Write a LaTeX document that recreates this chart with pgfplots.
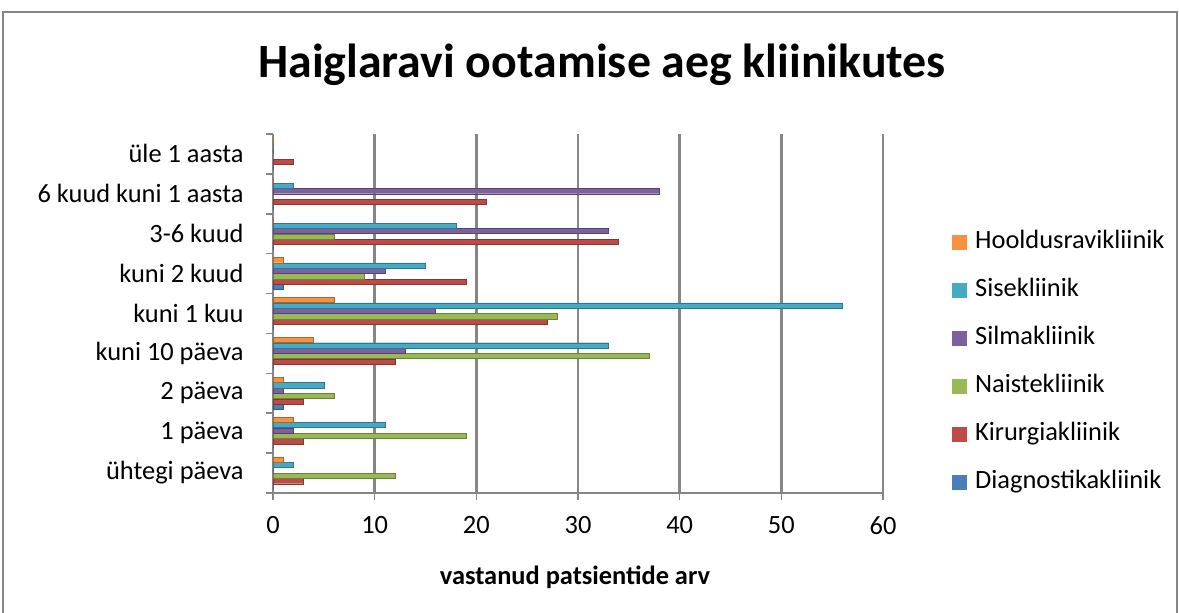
\documentclass[border=0pt]{standalone}
\usepackage{fontspec}
\setmainfont{Carlito}
\usepackage{pgfplots}
\usepackage{pgfplotstable}
\pgfplotsset{compat=1.18}
\definecolor{gridgray}{RGB}{134,134,134}
\definecolor{cDiag}{HTML}{4A7EBB}
\definecolor{cKir}{HTML}{BE4B48}
\definecolor{cNai}{HTML}{98B954}
\definecolor{cSil}{HTML}{7D60A0}
\definecolor{cSis}{HTML}{46AAC5}
\definecolor{cHoo}{HTML}{F69240}

% waiting time category (0 = uhtegi paeva ... 8 = ule 1 aasta), respondents per clinic
\pgfplotstableread{
cat diag kir nai sil sis hoo
0   0    3   12  0   2   1
1   0    3   19  2   11  2
2   1    3   6   1   5   1
3   0    12  37  13  33  4
4   0    27  28  16  56  6
5   1    19  9   11  15  1
6   0    34  6   33  18  0
7   0    21  0   38  2   0
8   0    2   0   0   0   0
}\waittimes

\begin{document}
\begin{tikzpicture}[x=1bp,y=1bp]
\path[use as bounding box] (0,0) rectangle (1179,613);
\draw[gridgray, line width=1.2bp] (3,-10) -- (3,601) -- (1177,601) -- (1177,-10);
\node[font=\fontsize{48}{56}\selectfont\bfseries] at (602,548) {Haiglaravi ootamise aeg kliinikutes};
\node[font=\fontsize{26.5}{30}\selectfont\bfseries] at (575,36) {vastanud patsientide arv};
\begin{axis}[
  at={(273bp,479bp)}, anchor=north west, scale only axis,
  width=610bp, height=359bp,
  font=\fontsize{26.5}{30}\selectfont,
  /pgf/number format/assume math mode=true,
  xbar, bar width=0.13,
  xmin=0, xmax=60, ymin=-0.5, ymax=8.5,
  xtick={0,10,...,60},
  ytick={0,...,8},
  yticklabels={ühtegi päeva,1 päeva,2 päeva,kuni 10 päeva,kuni 1 kuu,kuni 2 kuud,3-6 kuud,6 kuud kuni 1 aasta,üle 1 aasta},
  minor ytick={-0.5,0.5,...,8.5},
  tick align=outside,
  major tick length=7bp, minor tick length=7bp,
  every major y tick/.append style={draw=none},
  every minor y tick/.append style={gridgray, line width=1.5bp},
  every major x tick/.append style={gridgray, line width=1.5bp},
  yticklabel style={xshift=-19bp},
  xticklabel style={yshift=-13bp},
  axis x line*=bottom, axis y line*=left,
  axis line style={gridgray, line width=1.5bp, -},
  xmajorgrids, ymajorgrids=false,
  major grid style={gridgray, line width=2.5bp},
  reverse legend,
  legend style={at={(1.113,0.363)}, anchor=west, draw=none, fill=none,
    inner sep=0pt, row sep=24bp, column sep=8bp,
    nodes={inner sep=0pt, text height=18bp, text depth=6bp}},
  legend cell align=left,
  legend image code/.code={\fill[#1,draw=none] (0bp,-7.5bp) rectangle (15bp,7.5bp);},
]
\addplot[fill=cDiag, draw=cDiag!70!black, bar shift=-0.3375] table[x=diag,y=cat] {\waittimes};
\addlegendentry{Diagnostikakliinik}
\addplot[fill=cKir, draw=cKir!70!black, bar shift=-0.2025] table[x=kir,y=cat] {\waittimes};
\addlegendentry{Kirurgiakliinik}
\addplot[fill=cNai, draw=cNai!70!black, bar shift=-0.0675] table[x=nai,y=cat] {\waittimes};
\addlegendentry{Naistekliinik}
\addplot[fill=cSil, draw=cSil!70!black, bar shift=0.0675] table[x=sil,y=cat] {\waittimes};
\addlegendentry{Silmakliinik}
\addplot[fill=cSis, draw=cSis!70!black, bar shift=0.2025] table[x=sis,y=cat] {\waittimes};
\addlegendentry{Sisekliinik}
\addplot[fill=cHoo, draw=cHoo!70!black, bar shift=0.3375] table[x=hoo,y=cat] {\waittimes};
\addlegendentry{Hooldusravikliinik}
\end{axis}
\end{tikzpicture}
\end{document}
